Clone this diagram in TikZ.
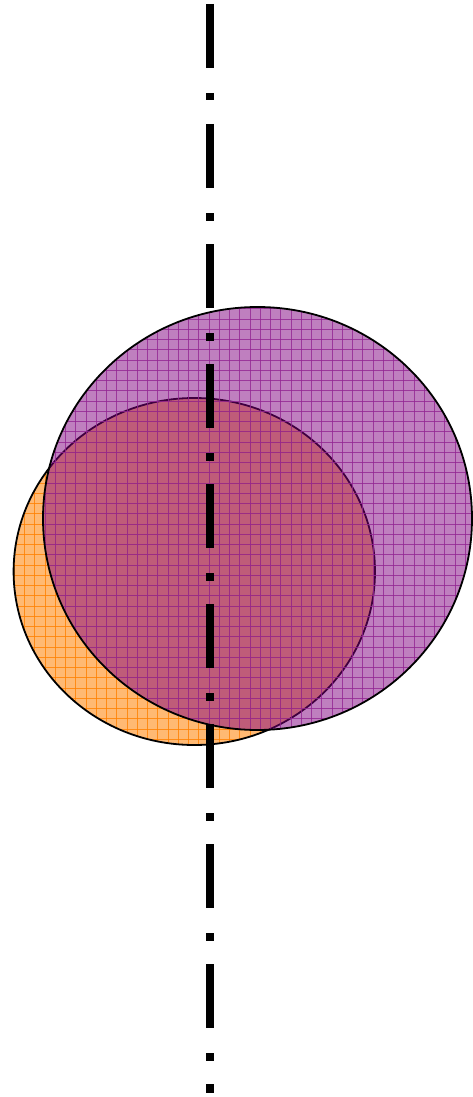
\documentclass[tikz,border=0pt]{standalone}
\usetikzlibrary{calc}
\definecolor{orgfill}{RGB}{255,128,0}
\definecolor{purfill}{RGB}{128,0,128}
\tikzset{
  outline/.style={draw=black, line width=1.8pt},
  gridline/.style={line width=0.6pt},
  axisline/.style={line width=7.6pt, line cap=butt, dash pattern=on 64pt off 25pt on 7.5pt off 23.5pt}
}
\begin{document}
\begin{tikzpicture}[x=1pt,y=-1pt]
\useasboundingbox (0,0) rectangle (472,1097);
% orange ellipse
\coordinate (oc) at (194.3,571.5);
\begin{scope}
  \clip (oc) ellipse [x radius=180.7, y radius=173.5];
  \fill[orgfill, opacity=0.55] (0,0) rectangle (472,1097);
  \foreach \k in {0,...,46} {
    \draw[gridline, orgfill, opacity=0.8] ({3.9+\k*10.25},380) -- ({3.9+\k*10.25},760);
  }
  \foreach \k in {36,...,75} {
    \draw[gridline, orgfill, opacity=0.8] (0,{1.25+\k*10.25}) -- (472,{1.25+\k*10.25});
  }
\end{scope}
\draw[outline] (oc) ellipse [x radius=180.7, y radius=173.5];
% purple ellipse
\coordinate (pc) at (257.5,518.5);
\begin{scope}
  \clip (pc) ellipse [x radius=214.5, y radius=211.5];
  \fill[purfill, opacity=0.5] (0,0) rectangle (472,1097);
  \foreach \k in {0,...,46} {
    \draw[gridline, purfill!85!white, opacity=0.8] ({3.9+\k*10.25},290) -- ({3.9+\k*10.25},745);
  }
  \foreach \k in {28,...,73} {
    \draw[gridline, purfill!85!white, opacity=0.8] (0,{1.25+\k*10.25}) -- (472,{1.25+\k*10.25});
  }
\end{scope}
\draw[outline] (pc) ellipse [x radius=214.5, y radius=211.5];
% axis line
\coordinate (atop) at (209.8,4);
\coordinate (abot) at (209.8,1093);
\draw[axisline] (atop) -- (abot);
\end{tikzpicture}
\end{document}
